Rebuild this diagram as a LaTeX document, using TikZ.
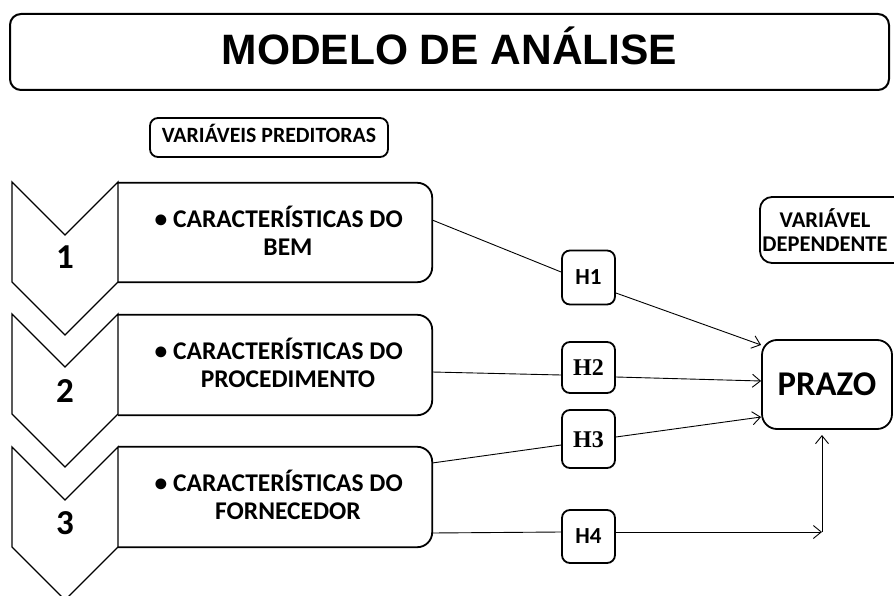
\documentclass[tikz,border=0pt]{standalone}
\usepackage{fontspec}
\setmainfont{Carlito}
\newfontfamily\arialfont{Liberation Sans}
\newfontfamily\timesfont{Liberation Serif}
\usetikzlibrary{arrows.meta}
\begin{document}
\begin{tikzpicture}[x=1pt,y=-1pt,
  rbox/.style={draw, line width=1.8pt, rounded corners=#1, inner sep=0pt},
  rbox/.default=8pt,
  hbox/.style={rbox=8pt, minimum width=53pt, font=\bfseries\fontsize{23}{23}\selectfont, text height=14.5pt, text depth=0pt},
  serifh/.style={font=\timesfont\bfseries\fontsize{24}{24}\selectfont, text height=16pt},
  bigtext/.style={align=center, font=\bfseries\fontsize{25.5}{27.5}\selectfont},
  frame/.style={draw=none, inner sep=0pt},
  outline/.style={line width=1.8pt, rounded corners=15pt},
  chev/.style={draw, line width=1.4pt, line join=miter},
  num/.style={font=\bfseries\fontsize{35}{35}\selectfont},
  conn/.style={line width=0.9pt},
  arr/.style={line width=0.9pt, -{Straight Barb[length=8pt,width=13pt,line width=0.9pt]}}
]
\useasboundingbox (0,0) rectangle (894,596);
\clip (0,0) rectangle (894,596);

% title
\node[rbox=11pt, minimum width=879pt, minimum height=76pt, line width=2pt,
      font=\arialfont\bfseries\fontsize{42.5}{42.5}\selectfont, text height=31pt, text depth=5pt]
  (title) at (449.5,52) {MODELO DE ANÁLISE};

% predictor label
\node[rbox=8pt, minimum width=238pt, minimum height=39pt,
      font=\bfseries\fontsize{21.8}{21.8}\selectfont, text height=14pt, text depth=4pt]
  (vp) at (269,137.5) {VARIÁVEIS PREDITORAS};

% chevrons
\foreach \y/\n in {182/1, 314/2, 447/3}{
  \draw[chev] (12,\y) -- (65,\y+53) -- (118,\y) -- (118,\y+100) -- (65,\y+153) -- (12,\y+100) -- cycle;
}
\node[num] (n1) at (65,257.5) {1};
\node[num] (n2) at (65,391) {2};
\node[num] (n3) at (65,523) {3};

% predictor boxes
\node[frame, minimum width=314pt, minimum height=99pt] (b1) at (275,232.5) {};
\node[frame, minimum width=314pt, minimum height=100pt] (b2) at (275,365) {};
\node[frame, minimum width=314pt, minimum height=100pt] (b3) at (275,497) {};
\foreach \b in {b1,b2,b3}{
  \draw[outline] (\b.north west) -- (\b.north east) -- (\b.south east) -- (\b.south west);
}
\node[bigtext] (t1) at (288,231) {\llap{\textbullet\ }CARACTERÍSTICAS DO\\BEM};
\node[bigtext] (t2) at (288,363) {\llap{\textbullet\ }CARACTERÍSTICAS DO\\PROCEDIMENTO};
\node[bigtext] (t3) at (288,495) {\llap{\textbullet\ }CARACTERÍSTICAS DO\\FORNECEDOR};

% hypothesis boxes
\node[hbox, minimum height=54pt] (h1) at (588.5,277.5) {H1};
\node[hbox, serifh, minimum height=51pt] (h2) at (588.5,367.5) {H2};
\node[hbox, serifh, minimum height=58pt] (h3) at (588.5,439) {H3};
\node[hbox, minimum height=53pt] (h4) at (588.5,536.5) {H4};

% dependent variable
\node[rbox=15pt, minimum width=130pt, minimum height=89pt,
      font=\bfseries\fontsize{34.7}{34.7}\selectfont, text height=22pt, text depth=0pt]
  (pz) at (827,384.5) {PRAZO};
\node[rbox=12pt, minimum width=150pt, minimum height=66pt] (vdbox) at (835,230) {};
\node[align=center, font=\bfseries\fontsize{22.5}{24}\selectfont] (vd) at (825,230) {VARIÁVEL\\DEPENDENTE};

% connectors
\draw[conn] ([yshift=12.5pt]b1.east) -- ([yshift=5.5pt]h1.west);
\draw[arr] ([yshift=-15.5pt]h1.east) -- ([yshift=39.5pt]pz.west);
\draw[conn] ([yshift=-7pt]b2.east) -- ([yshift=-7.5pt]h2.west);
\draw[arr] ([yshift=-9.5pt]h2.east) -- ([yshift=3.5pt]pz.west);
\draw[conn] ([yshift=34pt]b3.east) -- ([yshift=-6pt]h3.west);
\draw[arr] ([yshift=2pt]h3.east) -- ([yshift=-32.5pt]pz.west);
\draw[conn] ([yshift=-36pt]b3.east) -- ([yshift=4.5pt]h4.west);
\coordinate (corner) at (822,532);
\coordinate (up) at (822,435);
\draw[arr] ([yshift=4.5pt]h4.east) -- (corner);
\draw[arr] (corner) -- (up);
\end{tikzpicture}
\end{document}
